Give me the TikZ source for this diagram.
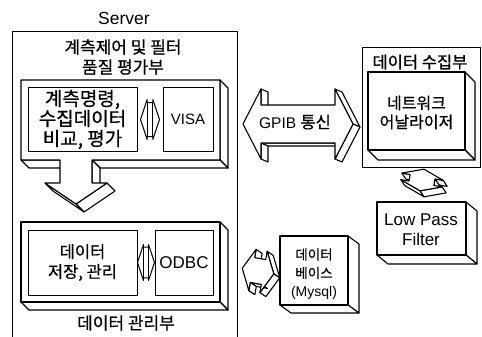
\documentclass[tikz,border=0pt]{standalone}
\usepackage{fontspec}
\setmainfont{Liberation Sans}
\newfontfamily\kr[FakeBold=0.6]{Noto Sans CJK KR}
\usetikzlibrary{calc}

\newcommand\setfs[2]{\fontsize{#1}{#2}\selectfont}

% Side faces of an extruded polygon: #1,#2 depth offset (right, down),
% #3 the edges a/b of the front face, listed clockwise.
% Only the faces turned towards the depth direction are drawn.
\newcommand\prismfaces[3]{%
  \foreach \ea/\eb in {#3}{%
    \pgfpointanchor{\ea}{center}\pgfgetlastxy{\pxa}{\pya}%
    \pgfpointanchor{\eb}{center}\pgfgetlastxy{\pxb}{\pyb}%
    \pgfmathsetmacro\facevis{-(\pyb-\pya)*(#1)+(\pxb-\pxa)*(-(#2))}%
    \ifdim\facevis pt>0.01pt
      \filldraw[face] (\ea) -- (\eb) -- ([shift={(#1,#2)}]\eb) -- ([shift={(#1,#2)}]\ea) -- cycle;
    \fi
  }%
}

% Raised rectangular plate: prefix, x1, y1, x2, y2, depth x, depth y
\newcommand\solidbox[7]{%
  \coordinate (#1-1) at (#2,#3);
  \coordinate (#1-2) at (#4,#3);
  \coordinate (#1-3) at (#4,#5);
  \coordinate (#1-4) at (#2,#5);
  \prismfaces{#6}{#7}{#1-1/#1-2,#1-2/#1-3,#1-3/#1-4,#1-4/#1-1}
  \filldraw[face] (#1-1) -- (#1-2) -- (#1-3) -- (#1-4) -- cycle;
}

% Solid double-headed arrow: prefix, placement, depth x, depth y,
% head base position, shaft half-width (unit arrow, tips at x=-1 and x=1)
\newcommand\solidarrow[6]{%
  \begin{scope}[#2]
    \coordinate (#1-1) at (-1,0);
    \coordinate (#1-2) at (-#5,-1);
    \coordinate (#1-3) at (-#5,-#6);
    \coordinate (#1-4) at (#5,-#6);
    \coordinate (#1-5) at (#5,-1);
    \coordinate (#1-6) at (1,0);
    \coordinate (#1-7) at (#5,1);
    \coordinate (#1-8) at (#5,#6);
    \coordinate (#1-9) at (-#5,#6);
    \coordinate (#1-10) at (-#5,1);
  \end{scope}
  \prismfaces{#3}{#4}{#1-1/#1-2,#1-2/#1-3,#1-3/#1-4,#1-4/#1-5,#1-5/#1-6,#1-6/#1-7,#1-7/#1-8,#1-8/#1-9,#1-9/#1-10,#1-10/#1-1}
  \filldraw[face] (#1-1) -- (#1-2) -- (#1-3) -- (#1-4) -- (#1-5) -- (#1-6)
     -- (#1-7) -- (#1-8) -- (#1-9) -- (#1-10) -- cycle;
}

% Flat outline double arrow between two boxes: placement, head base, shaft half-width
\newcommand\flatarrow[3]{%
  \begin{scope}[#1]
    \draw[line width=1pt, line join=round] (-1,0) -- (-#2,-1) -- (-#2,-#3) -- (#2,-#3) -- (#2,-1)
      -- (1,0) -- (#2,1) -- (#2,#3) -- (-#2,#3) -- (-#2,1) -- cycle;
    \draw[line width=1pt] (-#2,-#3) -- (-#2,#3) (#2,-#3) -- (#2,#3);
  \end{scope}
}

\tikzset{
  face/.style={draw, fill=white, line width=1.1pt, line join=round},
  boxn/.style={draw, line width=1pt, inner sep=0pt, align=center},
  lbl/.style={inner sep=0pt, align=center},
}

\begin{document}
\begin{tikzpicture}[x=1pt, y=-1pt, line width=1.1pt]
\useasboundingbox (0,0) rectangle (482,337);

% ---------------- Server frame (open at the bottom)
\coordinate (sv1) at (12,337);
\coordinate (sv2) at (12,32);
\coordinate (sv3) at (237,32);
\coordinate (sv4) at (237,337);
\draw[line width=1pt] (sv1) -- (sv2) -- (sv3) -- (sv4);
\node[lbl, font=\setfs{17.5}{20}] (server) at (124,18) {Server};
\node[lbl, font={\kr\setfs{17}{20}}] (ctrl) at (123,57) {계측제어 및 필터\\품질 평가부};

% ---------------- measurement plate with the arrow down to data management
\coordinate (uA) at (21,80);
\coordinate (uB) at (220,80);
\coordinate (uC) at (220,160);
\coordinate (uD) at (92,160);
\coordinate (uE) at (92,183);
\coordinate (uF) at (107,183);
\coordinate (uG) at (76,204);
\coordinate (uH) at (45,183);
\coordinate (uI) at (60,183);
\coordinate (uJ) at (60,160);
\coordinate (uK) at (21,160);
\prismfaces{8}{8}{uA/uB,uB/uC,uC/uD,uD/uE,uE/uF,uF/uG,uG/uH,uH/uI,uI/uJ,uJ/uK,uK/uA}
\filldraw[face] (uA) -- (uB) -- (uC) -- (uD) -- (uE) -- (uF) -- (uG) -- (uH)
  -- (uI) -- (uJ) -- (uK) -- cycle;

\node[boxn, minimum width=109pt, minimum height=63pt, font={\kr\setfs{19}{20}}]
  (cmd) at (82.5,119.5) {계측명령,\\수집데이터\\비교, 평가};
\node[boxn, minimum width=50pt, minimum height=63pt, font=\setfs{15}{18}]
  (visa) at (188,119.5) {VISA};
\path ($(cmd.east)!0.5!(visa.west)$) coordinate (cv);
\flatarrow{shift={(cv)}, xscale=9.5, yscale=20}{0.3}{0.85}

% ---------------- data management plate
\solidbox{lo}{21}{222}{220}{302}{8}{8}
\node[boxn, minimum width=109pt, minimum height=65pt, font={\kr\setfs{16.5}{20}}]
  (store) at (82.5,262.5) {데이터\\저장, 관리};
\node[boxn, minimum width=58pt, minimum height=65pt, font=\setfs{17}{20}]
  (odbc) at (184,262.5) {ODBC};
\path ($(store.east)!0.5!(odbc.west)$) coordinate (so);
\flatarrow{shift={(so)}, xscale=8.5, yscale=18}{0.3}{0.85}
\node[lbl, font={\kr\setfs{17}{20}}] (mgmt) at (126,323) {데이터 관리부};

% ---------------- GPIB link
\solidarrow{gp}{shift={(298,124)}, xscale=55, yscale=35}{7}{3}{0.673}{0.543}
\node[lbl, font=\setfs{15.5}{18}] (gpib) at (295,122) {GPIB {\kr\setfs{16.5}{18}통신}};

% ---------------- data collection unit
\node[draw, line width=1pt, minimum width=118pt, minimum height=119pt, inner sep=0pt]
  (collect) at (421,107.5) {};
\node[lbl, font={\kr\setfs{16.5}{20}}] (colltitle) at (420,62) {데이터 수집부};
\solidbox{na}{368}{72}{465}{150}{10}{10}
\node[lbl, font={\kr\setfs{16}{19}}] (analyzer) at (416.5,112.5) {네트워크\\어날라이저};

% ---------------- low pass filter and its link
\solidarrow{fa}{shift={(422,180)}, rotate=80, xscale=11, yscale=21}{4}{6}{0.3}{0.6}
\solidbox{lpf}{377}{202}{466}{255}{11}{9}
\node[lbl, font=\setfs{17}{20}] (filter) at (421,230) {Low Pass\\Filter};

% ---------------- database and its link
\solidarrow{ma}{shift={(258,271)}, rotate=-10, xscale=16, yscale=21}{6}{4}{0.35}{0.6}
\solidbox{db}{280}{236}{348}{305}{11}{8}
\node[lbl, font=\setfs{14}{18.5}] (mysql) at (314,274) {{\kr\setfs{13.5}{18.5}데이터}\\{\kr\setfs{13.5}{18.5}베이스}\\(Mysql)};
\end{tikzpicture}
\end{document}
